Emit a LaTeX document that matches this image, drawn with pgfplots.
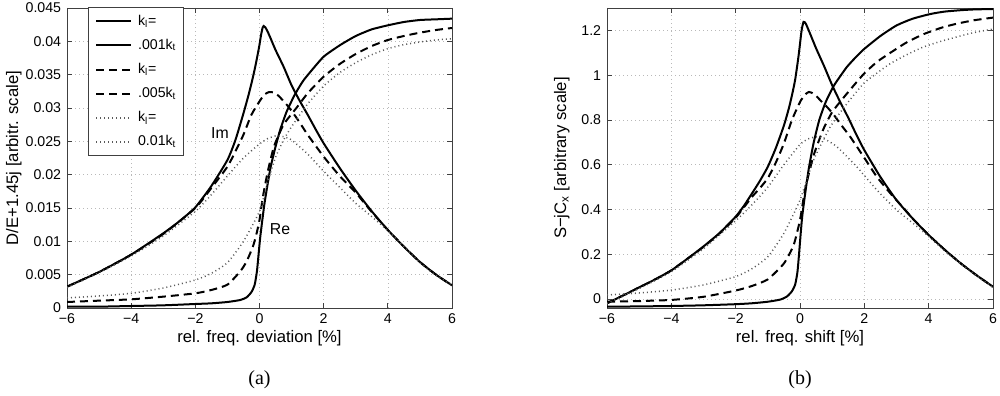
\documentclass[border=0pt]{standalone}
\usepackage{pgfplots}
\pgfplotsset{compat=1.18}
\usepackage{fontspec}
\setmainfont{Liberation Sans}
\newfontfamily\seriffont{Liberation Serif}

\pgfplotsset{
  mystyle/.style={
    scale only axis, width=231pt, height=180pt,
    xmin=-6, xmax=6,
    xtick={-6,-4,-2,0,2,4,6},
    xticklabels={−6,−4,−2,0,2,4,6},
    grid=major,
    major grid style={gray!55, line width=0.4pt, dash pattern=on 0.6pt off 1.8pt},
    axis line style={black!75, line width=0.5pt},
    tick style={black!75, line width=0.5pt},
    tick align=inside, major tick length=3pt,
    ticklabel style={font=\fontsize{8.5}{10}\selectfont},
    label style={font=\fontsize{10}{12}\selectfont},
    xlabel style={at={(axis description cs:0.5,-0.1)}, anchor=center},
    scaled ticks=false,
  },
  solidl/.style={black, line width=1.2pt, smooth, tension=0.35},
  dashl/.style={black, line width=1.2pt, dash pattern=on 4.8pt off 3pt, smooth, tension=0.35},
  dotl/.style={black!65, line width=0.9pt, dash pattern=on 0.6pt off 1.8pt, smooth, tension=0.35},
}

\begin{document}
\begin{tikzpicture}
\useasboundingbox (0,0) rectangle (600pt,237.6pt);

\begin{axis}[mystyle, name=L,
  at={(40.2pt,52.8pt)}, anchor=south west,
  ymin=0, ymax=0.045,
  ytick={0,0.005,0.01,0.015,0.02,0.025,0.03,0.035,0.04,0.045},
  yticklabels={0,0.005,0.01,0.015,0.02,0.025,0.03,0.035,0.04,0.045},
  xlabel={rel. freq. deviation [\%]},
  ylabel={D/E+1.45j [arbitr. scale]},
  ylabel style={at={(axis description cs:-0.138,0.5)}, anchor=center},
  legend style={at={(axis description cs:0.055,1.003)}, anchor=north west,
    draw=black!75, line width=0.5pt, fill=white,
    font=\fontsize{8.5}{10}\selectfont, row sep=6pt, column sep=3.5pt,
    inner xsep=4pt, inner ysep=4pt,
    nodes={inner sep=0pt, text height=6.5pt, text depth=2pt}},
  legend cell align=left,
  legend image code/.code={\draw[#1] (0pt,0pt) -- (21pt,0pt);},
]
% k_l = .001 k_t
\addplot[solidl] coordinates {
(-6,0.0032) (-5,0.0054) (-4,0.0080) (-3,0.0112) (-2.5,0.0130) (-2,0.0151)
(-1.5,0.0183) (-1,0.0222) (-0.75,0.0252) (-0.5,0.0292) (-0.35,0.0318)
(-0.25,0.0337) (-0.15,0.0358) (-0.05,0.0382) (0,0.0395) (0.05,0.0410)
(0.1,0.0421) (0.13,0.0423) (0.18,0.0421) (0.25,0.0415) (0.35,0.0404)
(0.5,0.0387) (0.75,0.0362) (1.0,0.0334) (1.25,0.0311) (1.5,0.0290)
(1.75,0.0268) (2.0,0.0247) (2.5,0.0210) (3.0,0.0176) (3.5,0.0145)
(4.0,0.0117) (4.5,0.0092) (5.0,0.0069) (5.5,0.0050) (6.0,0.0034)};
\addlegendentry{k\textsubscript{l}=}
\addplot[solidl] coordinates {
(-6,0.0002) (-5,0.0002) (-4,0.0003) (-3,0.0004) (-2,0.0006) (-1.5,0.0007)
(-1,0.0009) (-0.6,0.0012) (-0.4,0.0016) (-0.25,0.0024) (-0.15,0.0035)
(-0.08,0.0055) (-0.03,0.0080) (0.02,0.0105) (0.07,0.0125) (0.15,0.0155)
(0.25,0.0185) (0.35,0.0212) (0.5,0.0242) (0.65,0.0268) (0.85,0.0295)
(1.1,0.0320) (1.35,0.0340) (1.6,0.0355) (2.0,0.0377) (2.5,0.0394)
(3.0,0.0408) (3.5,0.0418) (4.0,0.0424) (4.5,0.0429) (5.0,0.0432)
(5.5,0.0433) (6.0,0.0434)};
\addlegendentry{.001k\textsubscript{t}}
% k_l = .005 k_t
\addplot[dashl] coordinates {
(-6,0.0032) (-5,0.0054) (-4,0.0080) (-3,0.0111) (-2,0.0150) (-1.5,0.0180)
(-1,0.0212) (-0.75,0.0235) (-0.5,0.0260) (-0.25,0.0290) (0,0.0310)
(0.15,0.0320) (0.3,0.0324) (0.45,0.0323) (0.6,0.0318) (0.9,0.0302)
(1.2,0.0282) (1.5,0.0260) (2.0,0.0227) (2.5,0.0198) (3.0,0.0173)
(3.5,0.0144) (4.0,0.0117) (4.5,0.0092) (5.0,0.0069) (5.5,0.0050) (6.0,0.0034)};
\addlegendentry{k\textsubscript{l}=}
\addplot[dashl] coordinates {
(-6,0.0009) (-5,0.0011) (-4,0.0013) (-3,0.0017) (-2,0.0022) (-1.5,0.0027)
(-1,0.0035) (-0.6,0.0055) (-0.4,0.0070) (-0.2,0.0093) (-0.1,0.0110)
(0,0.0132) (0.1,0.0165) (0.25,0.0203) (0.45,0.0242) (0.75,0.0275)
(1.15,0.0300) (1.5,0.0322) (2.0,0.0347) (2.5,0.0366) (3.0,0.0381)
(3.5,0.0393) (4.0,0.0402) (4.5,0.0408) (5.0,0.0413) (5.5,0.0417) (6.0,0.0420)};
\addlegendentry{.005k\textsubscript{t}}
% k_l = 0.01 k_t
\addplot[dotl] coordinates {
(-6,0.0031) (-5,0.0053) (-4,0.0078) (-3,0.0108) (-2,0.0145) (-1.5,0.0170)
(-1,0.0198) (-0.5,0.0225) (0,0.0246) (0.25,0.0254) (0.5,0.0258)
(0.75,0.0257) (1.0,0.0252) (1.5,0.0231) (2.0,0.0205) (2.5,0.0181)
(3.0,0.0157) (3.5,0.0137) (4.0,0.0116) (4.5,0.0092) (5.0,0.0068)
(5.5,0.0049) (6.0,0.0035)};
\addlegendentry{k\textsubscript{l}=}
\addplot[dotl] coordinates {
(-6,0.0015) (-5,0.0018) (-4,0.0022) (-3,0.0030) (-2,0.0042) (-1.5,0.0052)
(-1,0.0068) (-0.5,0.0100) (0,0.0145) (0.25,0.0188) (0.5,0.0226)
(0.75,0.0252) (1.0,0.0272) (1.5,0.0306) (2.0,0.0333) (2.5,0.0353)
(3.0,0.0368) (3.5,0.0380) (4.0,0.0389) (4.5,0.0395) (5.0,0.0399)
(5.5,0.0402) (6.0,0.0404)};
\addlegendentry{0.01k\textsubscript{t}}
\node[font=\fontsize{9.5}{11}\selectfont] at (axis cs:-1.23,0.0262) {Im};
\node[font=\fontsize{9.5}{11}\selectfont] at (axis cs:0.64,0.0118) {Re};
\end{axis}
\node[font=\seriffont\fontsize{12}{14}\selectfont, yshift=-43.2pt] at (L.south) {(a)};

\begin{axis}[mystyle, name=R,
  at={(364.2pt,52.8pt)}, anchor=south west, width=231.6pt,
  ymin=-0.04, ymax=1.3,
  ytick={0,0.2,0.4,0.6,0.8,1,1.2},
  yticklabels={0,0.2,0.4,0.6,0.8,1,1.2},
  xlabel={rel. freq. shift [\%]},
  ylabel={S−jC\textsubscript{x} [arbitrary scale]},
  ylabel style={at={(axis description cs:-0.1173,0.5)}, anchor=center},
]
\addplot[solidl] coordinates {
(-6,-0.019) (-5.5,0.016) (-5,0.052) (-4.5,0.088) (-4,0.128) (-3.5,0.180)
(-3,0.235) (-2.5,0.295) (-2,0.368) (-1.75,0.415) (-1.5,0.47) (-1.25,0.527)
(-1,0.591) (-0.75,0.675) (-0.5,0.775) (-0.35,0.85) (-0.25,0.91)
(-0.15,0.98) (-0.05,1.08) (0,1.14) (0.05,1.20) (0.11,1.238) (0.18,1.230)
(0.3,1.19) (0.5,1.12) (0.75,1.04) (1.0,0.955) (1.25,0.88) (1.5,0.81)
(1.75,0.735) (2.0,0.665) (2.5,0.545) (3.0,0.442) (3.5,0.360) (4.0,0.286)
(4.5,0.22) (5.0,0.159) (5.5,0.105) (6.0,0.055)};
\addplot[solidl] coordinates {
(-6,-0.034) (-5,-0.033) (-4,-0.031) (-3,-0.028) (-2,-0.023) (-1.5,-0.019)
(-1,-0.012) (-0.6,-0.002) (-0.4,0.012) (-0.25,0.035) (-0.15,0.065)
(-0.08,0.12) (-0.03,0.20) (0.02,0.29) (0.07,0.37) (0.15,0.46) (0.27,0.58)
(0.42,0.695) (0.6,0.80) (0.8,0.88) (1.04,0.950) (1.25,0.995) (1.46,1.037)
(1.7,1.075) (1.98,1.115) (2.5,1.175) (3.0,1.222) (3.5,1.252) (4.05,1.273)
(4.5,1.284) (5.08,1.291) (5.5,1.294) (6.0,1.295)};
\addplot[dashl] coordinates {
(-6,-0.019) (-5.5,0.016) (-5,0.052) (-4.5,0.088) (-4,0.128) (-3.5,0.180)
(-3,0.233) (-2.5,0.293) (-2,0.363) (-1.5,0.455) (-1.25,0.495)
(-1,0.540) (-0.75,0.61) (-0.5,0.695) (-0.25,0.80) (0,0.880) (0.15,0.912)
(0.28,0.925) (0.45,0.915) (0.65,0.885) (0.84,0.858) (1.05,0.823)
(1.25,0.783) (1.56,0.725) (1.98,0.635) (2.39,0.546) (2.81,0.472) (3.2,0.41)
(3.5,0.360) (4.0,0.286) (4.5,0.220) (5.0,0.159) (5.5,0.105) (6.0,0.055)};
\addplot[dashl] coordinates {
(-6,-0.012) (-5,-0.009) (-4,-0.004) (-3,0.010) (-2,0.038) (-1.5,0.058)
(-1,0.088) (-0.5,0.159) (-0.2,0.240) (0,0.353) (0.16,0.49) (0.42,0.64)
(0.73,0.76) (1.0,0.835) (1.3,0.89) (1.56,0.935) (1.98,1.005) (2.4,1.06)
(2.81,1.10) (3.3,1.145) (3.84,1.183) (4.4,1.212) (4.88,1.23) (5.4,1.245)
(6.0,1.257)};
\addplot[dotl] coordinates {
(-6,-0.02) (-5,0.047) (-4,0.122) (-3,0.225) (-2,0.35) (-1.5,0.42)
(-1,0.50) (-0.5,0.60) (0,0.690) (0.25,0.715) (0.53,0.725) (0.8,0.712)
(1.15,0.68) (1.77,0.59) (2.39,0.487) (3.01,0.397) (3.5,0.340) (4.0,0.28)
(4.5,0.215) (5.0,0.157) (5.5,0.103) (6.0,0.052)};
\addplot[dotl] coordinates {
(-6,0.018) (-5,0.027) (-4,0.040) (-3,0.063) (-2,0.10) (-1.5,0.135)
(-1,0.189) (-0.5,0.294) (0,0.442) (0.42,0.62) (0.94,0.769) (1.46,0.873)
(1.98,0.963) (2.4,1.01) (2.81,1.052) (3.3,1.09) (3.84,1.126) (4.4,1.152)
(4.88,1.171) (5.4,1.19) (6.0,1.206)};
\end{axis}
\node[font=\seriffont\fontsize{12}{14}\selectfont, yshift=-43.2pt] at (R.south) {(b)};
\end{tikzpicture}
\end{document}
